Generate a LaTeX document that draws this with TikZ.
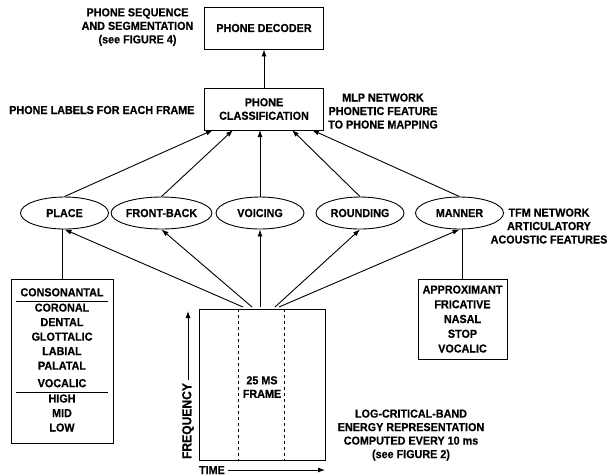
\documentclass[tikz,border=0pt]{standalone}
\usepackage{fontspec}
\setmainfont{Liberation Sans}[FakeStretch=0.93, BoldFeatures={FakeBold=0.4}]
\usepackage{tikz}
\usetikzlibrary{shapes, arrows.meta, positioning}
\usetikzlibrary{calc}

\begin{document}
\begin{tikzpicture}
  [
    x=1pt, y=-1pt,
    font=\fontsize{11.6}{13.5}\selectfont\bfseries,
    Box/.style={rectangle, draw=black, line width=0.9pt, minimum width=119pt, minimum height=42pt, align=center},
    Oval/.style={ellipse, draw=black, line width=0.9pt, minimum width=88pt, minimum height=32pt, inner sep=0pt},
    Note/.style={align=center},
    Arr/.style={-{Latex[length=7pt, width=5pt]}, draw, line width=0.9pt}
  ]
  \useasboundingbox (0, 0) rectangle (609, 475);
  % Nodes
  \node[Box] (dec) at(264, 28) {PHONE DECODER};
  \node[Box] (cls) at(264, 109) {PHONE\\CLASSIFICATION};
  \node[Note] (seq) at(137.5, 27) {PHONE SEQUENCE\\AND SEGMENTATION\\(see FIGURE 4)};
  \node[Note, anchor=east] (lab) at(198, 110) {PHONE LABELS FOR EACH FRAME};
  \node[Note] (mlp) at(383, 111) {MLP NETWORK\\PHONETIC FEATURE\\TO PHONE MAPPING};

  \node[Oval] (place) at(64.5, 213) {PLACE};
  \node[Oval] (front) at(161.5, 213) {FRONT-BACK};
  \node[Oval] (voice) at(260, 213) {VOICING};
  \node[Oval] (round) at(360, 213) {ROUNDING};
  \node[Oval] (manner) at(459.5, 213) {MANNER};
  \node[Note] (tfm) at(549, 226) {TFM NETWORK\\ARTICULATORY\\ACOUSTIC FEATURES};

  \node[Box, minimum width=102pt, minimum height=164pt, inner sep=0pt] (cons) at(62, 361)
    {\renewcommand{\arraystretch}{1.075}\setlength{\arrayrulewidth}{0.8pt}%
     \begin{tabular}{@{\hspace{4pt}}c@{\hspace{4pt}}}
       CONSONANTAL\\\hline
       CORONAL\\ DENTAL\\ GLOTTALIC\\ LABIAL\\ PALATAL\\[3pt]
       VOCALIC\\\hline
       HIGH\\ MID\\ LOW
     \end{tabular}};
  \node[Box, minimum width=89pt, minimum height=80pt, font=\fontsize{11.6}{14.75}\selectfont\bfseries] (mann) at(462.5, 319)
    {APPROXIMANT\\FRICATIVE\\NASAL\\STOP\\VOCALIC};

  \node[draw=black, line width=0.9pt, minimum width=126pt, minimum height=151pt] (spec) at(262, 384.5) {};
  \node[Note] (frame) at(262, 387) {25 MS\\FRAME};
  \node[rotate=90, font=\fontsize{13}{15}\selectfont\bfseries] (freq) at(188, 421) {FREQUENCY};
  \node[anchor=west] (time) at(195.5, 470) {TIME};
  \node[Note] (lcb) at(411, 435) {LOG-CRITICAL-BAND\\ENERGY REPRESENTATION\\COMPUTED EVERY 10 ms\\(see FIGURE 2)};

  % Ends of lines
  \coordinate (c1) at(213, 130);
  \coordinate (c2) at(233, 130);
  \coordinate (c3) at(260, 130);
  \coordinate (c4) at(292, 130);
  \coordinate (c5) at(312, 130);
  \coordinate (s1) at(243, 307);
  \coordinate (s2) at(252, 307);
  \coordinate (s3) at(260, 307);
  \coordinate (s4) at(275, 307);
  \coordinate (s5) at(279, 307);
  \coordinate (ftop) at(188, 311);
  \coordinate (tend) at(325, 470);

  % Lines
  \path [Arr] (cls.north) -- (dec.south);
  \path [Arr] (place.north) -- (c1);
  \path [Arr] (front.north) -- (c2);
  \path [Arr] (voice.north) -- (c3);
  \path [Arr] (round.north) -- (c4);
  \path [Arr] (manner.north) -- (c5);
  \path [Arr] (s1) -- (place.south);
  \path [Arr] (s2) -- (front.south);
  \path [Arr] (s3) -- (voice.south);
  \path [Arr] (s4) -- (round.south);
  \path [Arr] (s5) -- (manner.south);
  \path [draw, line width=0.9pt] (cons.north) -- (cons.north |- place.south);
  \path [draw, line width=0.9pt] (mann.north) -- (mann.north |- manner.south);
  \path [draw, dashed] ($(spec.north west)+(40, 0)$) -- ($(spec.south west)+(40, 0)$);
  \path [draw, dashed] ($(spec.north west)+(86, 0)$) -- ($(spec.south west)+(86, 0)$);
  \path [Arr] (freq.east) -- (ftop);
  \path [Arr] (time.east) -- (tend);

\end{tikzpicture}
\end{document}
